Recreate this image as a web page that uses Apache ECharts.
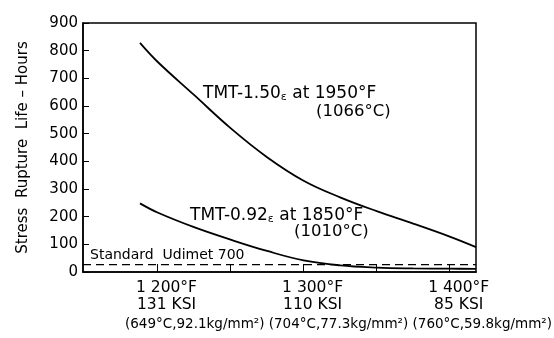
<!DOCTYPE html>
<html>
<head>
<meta charset="utf-8">
<script src="https://cdn.jsdelivr.net/npm/echarts@6/dist/echarts.min.js"></script>
<style>html,body{margin:0;padding:0;background:#fff}#c{width:554px;height:338px}</style>
</head>
<body>
<div id="c"></div>
<script>
// Temperature (°F) vs stress rupture life (hours)
const upperTemps = [1188, 1200, 1225, 1250, 1275, 1300, 1325, 1350, 1375, 1400, 1418];
const upperHours = [828, 760, 640, 520, 415, 330, 270, 220, 175, 128, 90];
const lowerTemps = [1188, 1200, 1225, 1250, 1275, 1300, 1325, 1350, 1375, 1400, 1418];
const lowerHours = [248, 215, 162, 117, 76, 42, 24, 16, 13, 12, 11];
const standardTemps = [1149, 1418];
const standardHours = [27, 27];
const xTickValues = [1200, 1250, 1300, 1350, 1400];
const xLabelValues = [1200, 1300, 1400];
const xLabelTop = ['1 200°F', '1 300°F', '1 400°F'];
const xLabelBottom = ['131 KSI', '110 KSI', '85 KSI'];
const metricLabels = '(649°C,92.1kg/mm²) (704°C,77.3kg/mm²) (760°C,59.8kg/mm²)';

const FONT = 'DejaVu Sans';
const chart = echarts.init(document.getElementById('c'), null, {renderer: 'canvas'});
const zip = (a, b) => a.map((v, i) => [v, b[i]]);
const lineStyle = {color: '#000', width: 1.8};
const subRich = {s: {fontSize: 11, fontFamily: FONT, verticalAlign: 'bottom', padding: [8, 0, 0, 0]}};

chart.setOption({
  animation: false,
  grid: {left: 83, top: 23, right: 78, bottom: 66, show: true, borderColor: '#000', borderWidth: 1.5, backgroundColor: 'transparent'},
  xAxis: {
    type: 'value', min: 1149, max: 1418,
    axisLine: {lineStyle: {color: '#000', width: 1.5}},
    splitLine: {show: false},
    axisTick: {show: true, inside: true, length: 8, customValues: xTickValues, lineStyle: {color: '#000', width: 1}},
    axisLabel: {
      customValues: xLabelValues, margin: 7, color: '#000', fontFamily: FONT, fontSize: 15.5, lineHeight: 17,
      padding: [0, 0, 0, 18],
      formatter: v => { const i = xLabelValues.indexOf(v); return i < 0 ? '' : xLabelTop[i] + '\n' + xLabelBottom[i]; }
    }
  },
  yAxis: {
    type: 'value', min: 0, max: 900, interval: 100,
    axisLine: {show: true, lineStyle: {color: '#000', width: 1.5}},
    splitLine: {show: false},
    axisTick: {show: true, inside: true, length: 6, lineStyle: {color: '#000'}},
    axisLabel: {color: '#000', fontFamily: FONT, fontSize: 15, margin: 5},
    name: 'Stress  Rupture  Life – Hours', nameLocation: 'middle', nameGap: 52,
    nameTextStyle: {color: '#000', fontFamily: FONT, fontSize: 15}
  },
  series: [
    {type: 'line', data: zip(upperTemps, upperHours), smooth: 0.4, symbol: 'none', lineStyle},
    {type: 'line', data: zip(lowerTemps, lowerHours), smooth: 0.4, symbol: 'none', lineStyle},
    {type: 'line', data: zip(standardTemps, standardHours), symbol: 'none', lineStyle: {color: '#000', width: 1.2, type: [8, 5]}}
  ],
  graphic: [
    {type: 'text', left: 203, top: 85, style: {text: 'TMT-1.50{s|ε} at 1950°F', fill: '#000', font: '17px ' + FONT, rich: subRich}},
    {type: 'text', left: 316, top: 103, style: {text: '(1066°C)', fill: '#000', font: '16.5px ' + FONT}},
    {type: 'text', left: 190, top: 207, style: {text: 'TMT-0.92{s|ε} at 1850°F', fill: '#000', font: '17px ' + FONT, rich: subRich}},
    {type: 'text', left: 294, top: 223, style: {text: '(1010°C)', fill: '#000', font: '16.5px ' + FONT}},
    {type: 'text', left: 90, top: 248, style: {text: 'Standard  Udimet 700', fill: '#000', font: '14px ' + FONT}},
    {type: 'text', right: 2, top: 317, style: {text: metricLabels, fill: '#000', font: '13.5px ' + FONT}}
  ]
});
</script>
</body>
</html>
